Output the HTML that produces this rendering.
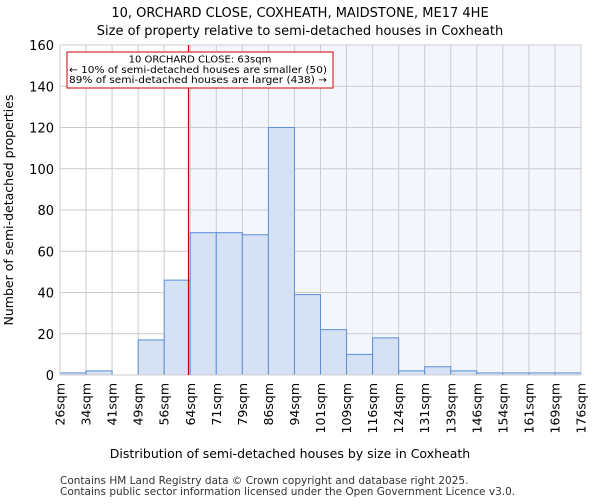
<!DOCTYPE html>
<html><head><meta charset="utf-8"><style>
body{margin:0;background:#fff;font-family:"DejaVu Sans","Liberation Sans",sans-serif}
</style></head><body>
<svg id="chart" width="600" height="500" xmlns="http://www.w3.org/2000/svg" font-family="DejaVu Sans, Liberation Sans, sans-serif">
<text x="300" y="17" text-anchor="middle" font-size="13">10, ORCHARD CLOSE, COXHEATH, MAIDSTONE, ME17 4HE</text>
<text x="300" y="35" text-anchor="middle" font-size="13">Size of property relative to semi-detached houses in Coxheath</text>
<g id="plot"></g>
<text x="290" y="458" text-anchor="middle" font-size="12.5">Distribution of semi-detached houses by size in Coxheath</text>
<text transform="translate(13,210) rotate(-90)" text-anchor="middle" font-size="12.5">Number of semi-detached properties</text>
<text x="60" y="484" font-size="10.5" fill="#333">Contains HM Land Registry data © Crown copyright and database right 2025.</text>
<text x="60" y="495" font-size="10.5" fill="#333">Contains public sector information licensed under the Open Government Licence v3.0.</text>
</svg>
<script>
const categories=["26sqm","34sqm","41sqm","49sqm","56sqm","64sqm","71sqm","79sqm","86sqm","94sqm","101sqm","109sqm","116sqm","124sqm","131sqm","139sqm","146sqm","154sqm","161sqm","169sqm","176sqm"];
const counts=[1,2,0,17,46,69,69,68,120,39,22,10,18,2,4,2,1,1,1,1];
const yTicks=[0,20,40,60,80,100,120,140,160];
const binStart=26, binWidth=7.5, propertySize=63;
const X0=60,X1=581,Y0=375,Y1=45,YMAX=160;
const n=counts.length;
const xBin=i=>X0+(X1-X0)*i/n;
const xVal=v=>xBin((v-binStart)/binWidth);
const y=v=>Y0-(Y0-Y1)*v/YMAX;
const g=document.getElementById('plot');
const NS="http://www.w3.org/2000/svg";
function mk(t,a){const e=document.createElementNS(NS,t);for(const k in a)e.setAttribute(k,a[k]);g.appendChild(e);return e;}
let e;
e=mk('rect',{x:X0,y:Y1,width:X1-X0,height:Y0-Y1,fill:'#fff'});


const rx=xVal(propertySize);
e=mk('rect',{x:rx,y:Y1,width:X1-rx,height:Y0-Y1,fill:'#f3f6fd'});


yTicks.forEach(t=>{
 e=mk('line',{x1:X0,x2:X1,y1:y(t),y2:y(t),stroke:'#ccc','stroke-width':1});
 
 
 e=mk('text',{x:X0-6,y:y(t)+5,'text-anchor':'end','font-size':13});
 e.textContent=t;
 
 
});
categories.forEach((c,i)=>{
 const x=xBin(i);
 e=mk('line',{x1:x,x2:x,y1:Y1,y2:Y0,stroke:'#ccc','stroke-width':1});
 
 
 e=mk('text',{transform:`translate(${x+4.5},${Y0+8}) rotate(-90)`,'text-anchor':'end','font-size':12.5});
 e.textContent=c;
 
 
});
counts.forEach((v,i)=>{
 e=mk('rect',{x:xBin(i),y:y(v),width:xBin(i+1)-xBin(i),height:Y0-y(v),fill:'#d6e1f3',stroke:'#5b8fd6','stroke-width':1});
 
 
});
e=mk('rect',{x:X0,y:Y1,width:X1-X0,height:Y0-Y1,fill:'none',stroke:'#ccc'});


e=mk('line',{x1:rx,x2:rx,y1:Y1,y2:Y0,stroke:'#cc0000','stroke-width':1.2});


e=mk('rect',{x:67,y:52,width:266,height:36,fill:'#fff',stroke:'#cc0000','stroke-width':1});


[["10 ORCHARD CLOSE: 63sqm",200,'middle'],["← 10% of semi-detached houses are smaller (50)",69,'start'],["89% of semi-detached houses are larger (438) →",69,'start']].forEach((l,k)=>{
 e=mk('text',{x:l[1],y:62.5+k*10.3,'text-anchor':l[2],'font-size':10,textLength:l[2]==='start'?258:'', 'lengthAdjust':'spacingAndGlyphs'});
 if(l[2]!=='start')e.removeAttribute('textLength');
 e.textContent=l[0];
 
 
});
</script>
</body></html>
